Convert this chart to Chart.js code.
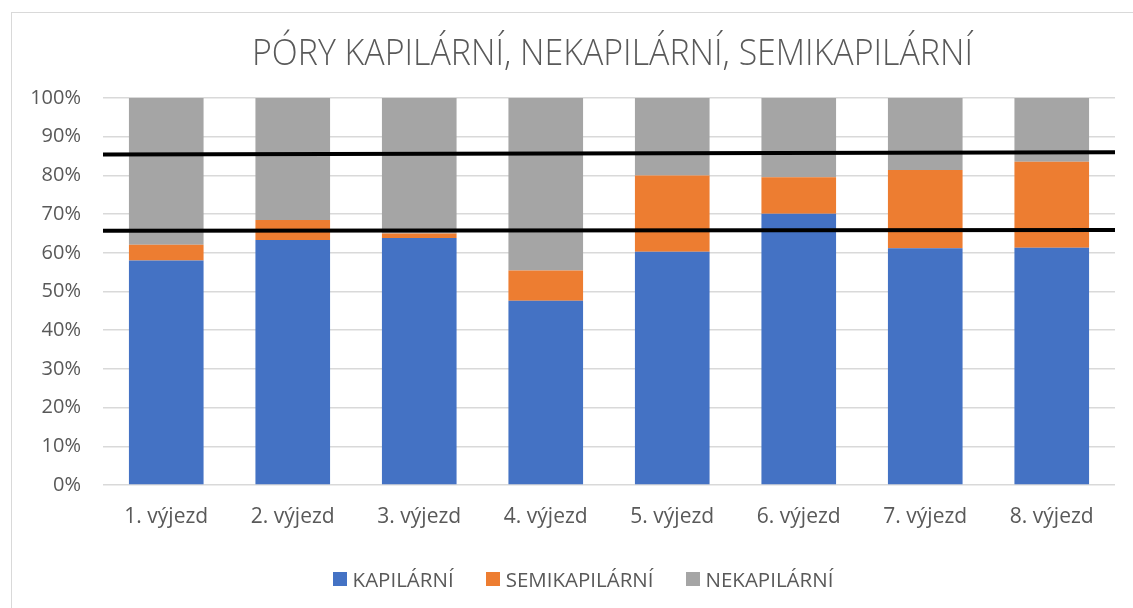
<!DOCTYPE html>
<html>
<head>
<meta charset="utf-8">
<script src="https://cdn.jsdelivr.net/npm/chart.js@4/dist/chart.umd.min.js"></script>
<style>
  html, body { margin: 0; padding: 0; background: #fff; overflow: hidden; }
  #wrap { position: relative; width: 1133px; height: 608px; }
  #title {
    position: absolute; left: 252px; top: 34px; margin: 0;
    font: 300 36px/36px 'Open Sans', sans-serif; color: #595959;
    white-space: nowrap; transform-origin: 0 0;
  }
  #legend {
    position: absolute; left: 0; width: 1166px; top: 566px; height: 26px;
    display: flex; justify-content: center; align-items: center;
    font: 400 20.5px/26px 'Open Sans', sans-serif; color: #595959;
  }
  #legend .item { display: flex; align-items: center; margin: 0 16px; }
  #legend .box { width: 14px; height: 14px; margin-right: 6px; }
</style>
</head>
<body>
<div id="wrap">
  <canvas id="chart"></canvas>
  <div id="title">PÓRY KAPILÁRNÍ, NEKAPILÁRNÍ, SEMIKAPILÁRNÍ</div>
  <div id="legend"></div>
</div>
<script>
const categories = ['1. výjezd', '2. výjezd', '3. výjezd', '4. výjezd', '5. výjezd', '6. výjezd', '7. výjezd', '8. výjezd'];
const kapilarni = [58.0, 63.3, 63.8, 47.6, 60.3, 70.1, 61.2, 61.3];
const semikapilarni = [4.1, 5.2, 1.2, 7.8, 19.7, 9.4, 20.2, 22.2];
const nekapilarni = [37.9, 31.5, 35.0, 44.6, 20.0, 20.5, 18.6, 16.5];
const yTicks = [0, 10, 20, 30, 40, 50, 60, 70, 80, 90, 100];
// hand drawn black lines: value at left end, value at right end
const refLines = [[85.4, 86.0], [65.7, 65.9]];

const BLUE = '#4472C4';
const ORANGE = '#ED7D31';
const GRAY = '#A5A5A5';
const TEXT = '#595959';
const FONT = "'Open Sans', sans-serif";

// squeeze the title to the width of the original (Calibri Light is narrow)
const title = document.getElementById('title');
title.style.transform = 'scaleX(' + (721 / title.getBoundingClientRect().width) + ')';

const frame = {
  id: 'frame',
  beforeDraw(chart) {
    const ctx = chart.ctx;
    ctx.save();
    ctx.strokeStyle = '#d9d9d9';
    ctx.lineWidth = 1;
    ctx.strokeRect(11.5, 12.5, 1300, 800);
    ctx.restore();
  },
};

const blackLines = {
  id: 'blackLines',
  afterDatasetsDraw(chart) {
    const ctx = chart.ctx;
    const y = chart.scales.y;
    const area = chart.chartArea;
    ctx.save();
    ctx.strokeStyle = '#000';
    ctx.lineWidth = 4;
    refLines.forEach(([a, b]) => {
      ctx.beginPath();
      ctx.moveTo(area.left, y.getPixelForValue(a));
      ctx.lineTo(area.right, y.getPixelForValue(b));
      ctx.stroke();
    });
    ctx.restore();
  },
};

const chart = new Chart(document.getElementById('chart'), {
  type: 'bar',
  data: {
    labels: categories,
    datasets: [
      { label: 'KAPILÁRNÍ', data: kapilarni, backgroundColor: BLUE },
      { label: 'SEMIKAPILÁRNÍ', data: semikapilarni, backgroundColor: ORANGE },
      { label: 'NEKAPILÁRNÍ', data: nekapilarni, backgroundColor: GRAY },
    ],
  },
  options: {
    responsive: true,
    maintainAspectRatio: false,
    animation: false,
    layout: { padding: { left: 0, right: 18, top: 98, bottom: 78 } },
    datasets: { bar: { barPercentage: 0.59, categoryPercentage: 1 } },
    plugins: {
      title: { display: false },
      legend: { display: false },
      tooltip: { enabled: false },
    },
    scales: {
      x: {
        stacked: true,
        afterFit(scale) { scale.height = 45; },
        grid: { display: false, drawTicks: false },
        border: { display: false },
        ticks: { color: TEXT, font: { family: FONT, size: 21 }, padding: 19 },
      },
      y: {
        stacked: true,
        min: 0,
        max: 100,
        afterFit(scale) { scale.width = 103; },
        afterBuildTicks(scale) { scale.ticks = yTicks.map(v => ({ value: v })); },
        grid: { color: '#d9d9d9', lineWidth: 1.5, drawTicks: false },
        border: { display: false },
        ticks: {
          color: TEXT,
          font: { family: FONT, size: 20 },
          padding: 22,
          callback: v => v + '%',
        },
      },
    },
  },
  plugins: [frame, blackLines],
});

// legend built from the chart's own datasets
const legend = document.getElementById('legend');
chart.data.datasets.forEach(ds => {
  const item = document.createElement('span');
  item.className = 'item';
  const box = document.createElement('span');
  box.className = 'box';
  box.style.background = ds.backgroundColor;
  item.appendChild(box);
  item.appendChild(document.createTextNode(ds.label));
  legend.appendChild(item);
});
</script>
</body>
</html>
